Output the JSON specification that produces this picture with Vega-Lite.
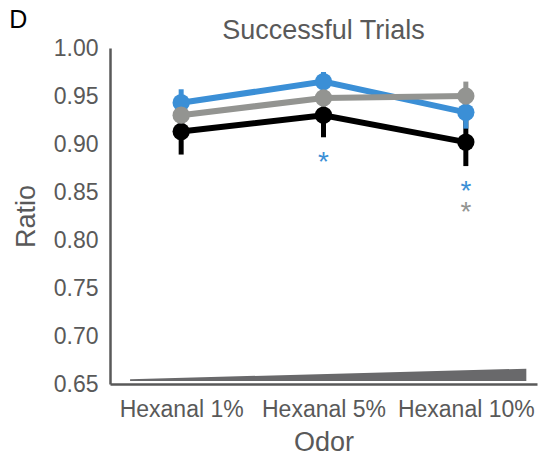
{
  "$schema": "https://vega.github.io/schema/vega-lite/v6.json",
  "width": 427,
  "height": 336,
  "autosize": {"type": "none"},
  "padding": {"left": 110, "top": 48, "right": 2, "bottom": 72},
  "background": "white",
  "config": {
    "view": {"stroke": null},
    "font": "Liberation Sans",
    "axis": {
      "grid": false,
      "ticks": false,
      "domainColor": "#595959",
      "domainWidth": 2.5,
      "labelColor": "#595959",
      "labelFontSize": 23,
      "titleColor": "#595959",
      "titleFontSize": 27,
      "titleFontWeight": "normal"
    }
  },
  "datasets": {
    "trials": [
      {"odor": "Hexanal 1%", "group": "A", "ratio": 0.913, "lo": 0.889, "hi": 0.937},
      {"odor": "Hexanal 5%", "group": "A", "ratio": 0.930, "lo": 0.907, "hi": 0.953},
      {"odor": "Hexanal 10%", "group": "A", "ratio": 0.902, "lo": 0.877, "hi": 0.927},
      {"odor": "Hexanal 1%", "group": "B", "ratio": 0.943, "lo": 0.929, "hi": 0.957},
      {"odor": "Hexanal 5%", "group": "B", "ratio": 0.965, "lo": 0.955, "hi": 0.975},
      {"odor": "Hexanal 10%", "group": "B", "ratio": 0.933, "lo": 0.916, "hi": 0.950},
      {"odor": "Hexanal 1%", "group": "C", "ratio": 0.930, "lo": 0.918, "hi": 0.942},
      {"odor": "Hexanal 5%", "group": "C", "ratio": 0.948, "lo": 0.935, "hi": 0.961},
      {"odor": "Hexanal 10%", "group": "C", "ratio": 0.950, "lo": 0.935, "hi": 0.965}
    ],
    "stars": [
      {"odor": "Hexanal 5%", "group": "B", "pos": 0.887},
      {"odor": "Hexanal 10%", "group": "B", "pos": 0.857},
      {"odor": "Hexanal 10%", "group": "C", "pos": 0.835}
    ],
    "wedge": [
      {"conc": 0.047, "low": 0.653, "high": 0.655},
      {"conc": 0.975, "low": 0.653, "high": 0.666}
    ],
    "panel": [
      {"u": -0.215, "v": 1.0205, "label": "D"}
    ],
    "heading": [
      {"u": 0.5, "v": 1.0094, "label": "Successful Trials"}
    ]
  },
  "resolve": {"scale": {"x": "independent", "color": "independent"}},
  "layer": [
    {
      "data": {"name": "wedge"},
      "mark": {"type": "area", "color": "#69696b", "clip": false},
      "encoding": {
        "x": {"field": "conc", "type": "quantitative", "scale": {"domain": [0, 1]}, "axis": null},
        "y": {"field": "low", "type": "quantitative", "scale": {"domain": [0.65, 1.0], "nice": false, "zero": false}},
        "y2": {"field": "high"}
      }
    },
    {
      "data": {"name": "panel"},
      "mark": {"type": "text", "baseline": "alphabetic", "align": "center", "clip": false, "fontSize": 25, "color": "#000000"},
      "encoding": {
        "x": {"field": "u", "type": "quantitative", "scale": {"domain": [0, 1]}, "axis": null},
        "y": {"field": "v", "type": "quantitative", "scale": {"domain": [0.65, 1.0], "nice": false, "zero": false}},
        "text": {"field": "label"}
      }
    },
    {
      "data": {"name": "heading"},
      "mark": {"type": "text", "baseline": "alphabetic", "align": "center", "clip": false, "fontSize": 27, "color": "#595959"},
      "encoding": {
        "x": {"field": "u", "type": "quantitative", "scale": {"domain": [0, 1]}, "axis": null},
        "y": {"field": "v", "type": "quantitative", "scale": {"domain": [0.65, 1.0], "nice": false, "zero": false}},
        "text": {"field": "label"}
      }
    },
    {
      "data": {"name": "trials"},
      "encoding": {
        "x": {
          "field": "odor",
          "type": "nominal",
          "sort": ["Hexanal 1%", "Hexanal 5%", "Hexanal 10%"],
          "scale": {"type": "point", "padding": 0.5, "domain": ["Hexanal 1%", "Hexanal 5%", "Hexanal 10%"]},
          "axis": {"title": "Odor", "labelAngle": 0, "labelPadding": 14, "titlePadding": 8}
        },
        "color": {
          "field": "group",
          "type": "nominal",
          "scale": {"domain": ["A", "B", "C"], "range": ["#000000", "#3b8fd6", "#939491"]},
          "legend": null
        }
      },
      "layer": [
        {
          "mark": {"type": "line", "strokeWidth": 6},
          "encoding": {
            "y": {
              "field": "ratio",
              "type": "quantitative",
              "scale": {"domain": [0.65, 1.0], "nice": false, "zero": false},
              "axis": {
                "title": "Ratio",
                "values": [0.65, 0.7, 0.75, 0.8, 0.85, 0.9, 0.95, 1.0],
                "format": ".2f",
                "labelPadding": 12,
                "titlePadding": 13
              }
            }
          }
        },
        {
          "mark": {"type": "rule", "strokeWidth": 5},
          "encoding": {
            "y": {"field": "lo", "type": "quantitative"},
            "y2": {"field": "hi"}
          }
        },
        {
          "mark": {"type": "point", "filled": true, "opacity": 1, "size": 300, "shape": "circle"},
          "encoding": {
            "y": {"field": "ratio", "type": "quantitative"}
          }
        }
      ]
    },
    {
      "data": {"name": "stars"},
      "mark": {"type": "text", "text": "*", "fontSize": 28, "baseline": "middle", "align": "center", "dy": 7},
      "encoding": {
        "x": {
          "field": "odor",
          "type": "nominal",
          "scale": {"type": "point", "padding": 0.5, "domain": ["Hexanal 1%", "Hexanal 5%", "Hexanal 10%"]},
          "axis": null
        },
        "y": {"field": "pos", "type": "quantitative", "scale": {"domain": [0.65, 1.0], "nice": false, "zero": false}},
        "color": {
          "field": "group",
          "type": "nominal",
          "scale": {"domain": ["A", "B", "C"], "range": ["#000000", "#3b8fd6", "#939491"]},
          "legend": null
        }
      }
    }
  ]
}
